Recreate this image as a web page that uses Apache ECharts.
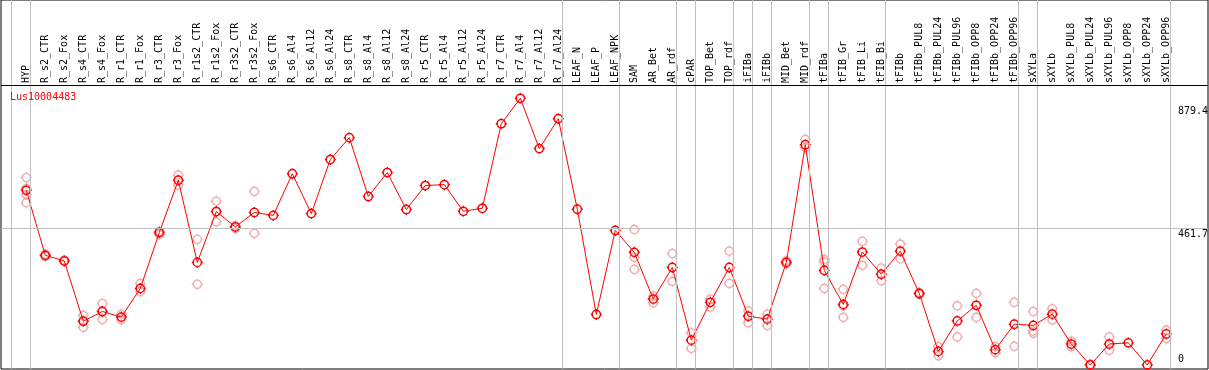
<!DOCTYPE html>
<html><head><meta charset="utf-8">
<script src="https://cdn.jsdelivr.net/npm/echarts@6/dist/echarts.min.js"></script>
<style>html,body{margin:0;padding:0;background:#fff}#c{width:1209px;height:370px}</style>
</head><body><div id="c"></div>
<script>
const title = 'Lus10004483';
const categories = ['HYP','R_s2_CTR','R_s2_Fox','R_s4_CTR','R_s4_Fox','R_r1_CTR','R_r1_Fox','R_r3_CTR','R_r3_Fox','R_r1s2_CTR','R_r1s2_Fox','R_r3s2_CTR','R_r3s2_Fox','R_s6_CTR','R_s6_Al4','R_s6_Al12','R_s6_Al24','R_s8_CTR','R_s8_Al4','R_s8_Al12','R_s8_Al24','R_r5_CTR','R_r5_Al4','R_r5_Al12','R_r5_Al24','R_r7_CTR','R_r7_Al4','R_r7_Al12','R_r7_Al24','LEAF_N','LEAF_P','LEAF_NPK','SAM','AR_Bet','AR_rdf','cPAR','TOP_Bet','TOP_rdf','iFIBa','iFIBb','MID_Bet','MID_rdf','tFIBa','tFIB_Gr','tFIB_Li','tFIB_Bi','tFIBb','tFIBb_PUL8','tFIBb_PUL24','tFIBb_PUL96','tFIBb_OPP8','tFIBb_OPP24','tFIBb_OPP96','sXYLa','sXYLb','sXYLb_PUL8','sXYLb_PUL24','sXYLb_PUL96','sXYLb_OPP8','sXYLb_OPP24','sXYLb_OPP96'];
const meanValues = [591,371,352,148,181,162,259,448,625,347,519,467,516,506,647,512,695,769,570,651,526,607,610,520,530,816,902,732,833,527,171,455,381,223,330,84,212,330,165,155,347,745,320,205,382,307,385,242,46,149,202,52,138,134,172,71,0,71,75,0,105];
const repA = [634,374,355,168,208,172,276,452,642,425,554,470,587,null,null,null,null,null,null,null,null,null,null,null,null,null,null,null,null,null,null,null,458,233,377,109,223,385,183,172,352,763,357,256,418,328,409,245,62,200,242,62,212,181,190,80,2,95,null,null,118];
const repB = [576,367,350,127,154,154,248,441,608,273,484,462,445,null,null,null,null,null,null,null,null,null,null,null,null,null,null,null,null,null,null,null,364,210,283,56,196,276,143,133,342,735,349,161,337,285,359,239,31,95,161,41,63,115,152,62,0,50,null,null,90];
const repC = [549,null,null,149,181,null,null,null,null,null,null,null,null,null,null,null,null,null,null,null,null,null,null,null,null,null,null,null,null,null,null,null,323,null,null,null,null,null,null,null,null,null,259,200,null,null,null,null,null,null,null,null,null,107,null,null,null,null,null,null,null];
const repD = [597,null,null,null,null,null,null,null,null,null,null,null,null,null,null,null,null,null,null,null,null,null,null,null,null,null,null,null,null,null,null,null,null,null,null,null,null,null,null,null,null,null,null,null,null,null,null,null,null,null,null,null,null,null,null,null,null,null,null,null,null];
const groupEnds = [-1,0,28,31,34,35,37,38,39,41,42,45,52,53,60];
const yTickValues = [0,461.7,879.4];
const yTickLabels = ['0','461.7','879.4'];

const FONT = 'DejaVu Sans Mono';
const sym = 'path://M0,6A6,6 0 1 1 12,6A6,6 0 1 1 0,6ZM6,-2L6,0M6,12L6,14M-2,6L0,6M12,6L14,6';

const mainData = meanValues.map((v,i)=>[i,v]);
const repData = [];
[repA,repB,repC,repD].forEach(arr=>arr.forEach((v,i)=>{ if(v!==null) repData.push([i,v]); }));

const chart = echarts.init(document.getElementById('c'), null, {renderer:'canvas'});
chart.setOption({
  animation:false,
  grid:{left:1,right:1,top:0,bottom:1,show:true,borderColor:'#000',borderWidth:1,backgroundColor:'#fff'},
  xAxis:{type:'value',position:'top',offset:-85,min:-1.3316,max:62.195,
    axisLine:{show:false},axisTick:{show:false},splitLine:{show:false},
    axisLabel:{rotate:90,margin:2,customValues:categories.map((c,i)=>i),
      formatter:v=>categories[Math.round(v)]||'',color:'#000',fontFamily:FONT,fontSize:10}},
  yAxis:{type:'value',min:-13.53,max:1234.5,show:false},
  series:[
    {type:'scatter',data:repData,symbol:sym,symbolSize:11,z:2,
      itemStyle:{color:'rgba(0,0,0,0)',borderColor:'#ee9a9a',borderWidth:1.4},
      markLine:{silent:true,symbol:'none',label:{show:false},lineStyle:{color:'#c0c0c0',width:1,type:'solid'},
        data:groupEnds.map(g=>({xAxis:g+0.23})).concat([{yAxis:yTickValues[1]}])}},
    {type:'line',data:mainData,symbol:sym,symbolSize:11,z:3,
      lineStyle:{color:'#ff0000',width:1},
      itemStyle:{color:'rgba(0,0,0,0)',borderColor:'#ff0000',borderWidth:1.5}}
  ]
});
const gr = [];
yTickValues.forEach((v,k)=>{
  const y = chart.convertToPixel({yAxisIndex:0}, v);
  gr.push({type:'text',left:1178,top: k===0 ? y-11 : y+1,z:100,
    style:{text:yTickLabels[k],fill:'#000',font:'10px "'+FONT+'"'}});
});
gr.push({type:'line',shape:{x1:1,y1:85.5,x2:1208,y2:85.5},style:{stroke:'#000',lineWidth:1},z:100});
gr.push({type:'text',left:10,top:92,z:100,style:{text:title,fill:'#ff0000',font:'10px "'+FONT+'"'}});
chart.setOption({graphic:gr});
</script></body></html>
